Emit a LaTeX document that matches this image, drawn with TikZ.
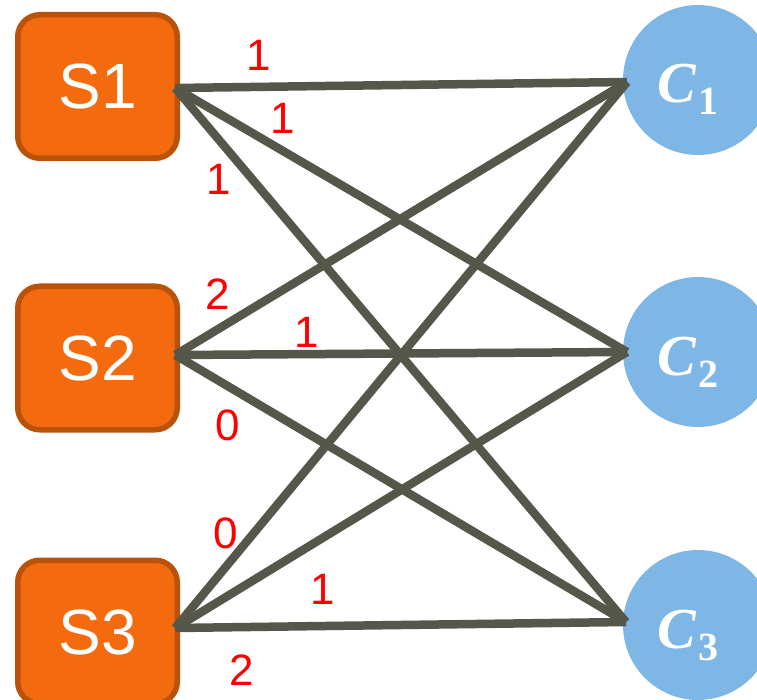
\documentclass[tikz,border=0pt]{standalone}
\usepackage{fontspec}
\setmainfont{Liberation Sans}
\newfontfamily\cfont{Liberation Serif}
\definecolor{edgecol}{HTML}{55574B}
\definecolor{boxfill}{HTML}{F46A0E}
\definecolor{boxline}{HTML}{B9520A}
\definecolor{circfill}{HTML}{7EB7E5}
\definecolor{labred}{HTML}{FF0000}
\newcommand{\cname}[1]{C\hspace{3pt}\raisebox{-12pt}{\upshape\fontsize{40}{40}\selectfont #1}}
\begin{document}
\begin{tikzpicture}[x=1pt,y=-1pt,
  sbox/.style={rectangle, rounded corners=22pt, fill=boxfill, draw=boxline,
    line width=5.5pt, minimum width=159.5pt, minimum height=143.5pt,
    inner sep=0pt, outer sep=0pt, text=white,
    font=\fontsize{64}{64}\selectfont},
  cnode/.style={circle, fill=circfill, minimum size=150pt, inner sep=0pt,
    outer sep=0pt},
  ctext/.style={text=white, inner sep=0pt, anchor=base west,
    font=\cfont\bfseries\itshape\fontsize{58}{58}\selectfont},
  link/.style={draw=edgecol, line width=8.5pt},
  wlab/.style={text=labred, inner sep=0pt, font=\fontsize{44}{44}\selectfont}
]
\useasboundingbox (0,0) rectangle (757,700);
\clip (0,0) rectangle (757,700);

\node[sbox] (S1) at (97.5,86.5) {S1};
\node[sbox] (S2) at (97.5,358) {S2};
\node[sbox] (S3) at (97.5,632) {S3};

\node[cnode] (C1) at (698,80) {};
\node[cnode] (C2) at (698,352) {};
\node[cnode] (C3) at (698,625) {};

\node[ctext] (T1) at (657,103) {\cname{1}};
\node[ctext] (T2) at (657,375) {\cname{2}};
\node[ctext] (T3) at (657,648) {\cname{3}};

\coordinate (a1) at ([xshift=-2pt,yshift=-1.5pt]S1.east);
\coordinate (a2) at ([xshift=-2pt,yshift=3pt]S2.east);
\coordinate (a3) at ([xshift=-2pt,yshift=4pt]S3.east);
\coordinate (b1) at ([xshift=4pt,yshift=-2pt]C1.west);
\coordinate (b2) at ([xshift=4pt]C2.west);
\coordinate (b3) at ([xshift=3pt,yshift=3pt]C3.west);

\foreach \s in {a1,a2,a3}{
  \foreach \t in {b1,b2,b3}{
    \draw[link] (\s) -- (\t);
  }
}

\node[wlab] (l1) at (259,55) {1};
\node[wlab] (l2) at (283,118) {1};
\node[wlab] (l3) at (219,179) {1};
\node[wlab] (l4) at (218,294) {2};
\node[wlab] (l5) at (307,332) {1};
\node[wlab] (l6) at (228,425) {0};
\node[wlab] (l7) at (226,533) {0};
\node[wlab] (l8) at (323,589) {1};
\node[wlab] (l9) at (242,670) {2};
\end{tikzpicture}
\end{document}
